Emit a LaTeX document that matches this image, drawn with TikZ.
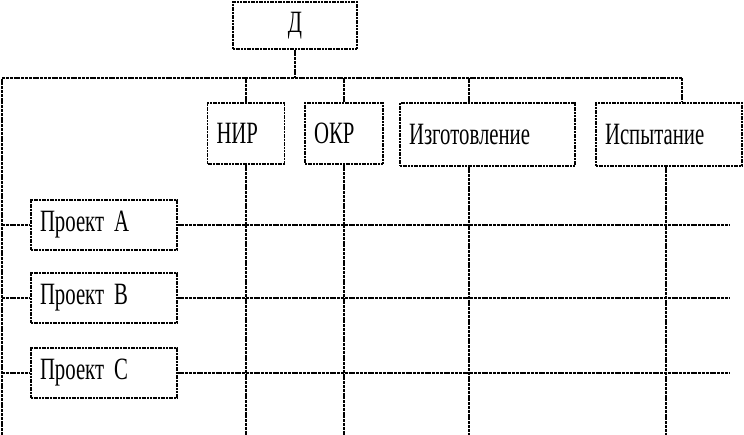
\documentclass[tikz,border=0pt]{standalone}
\usepackage{fontspec}
\setmainfont{Liberation Serif}[FakeStretch=0.67]
\usetikzlibrary{positioning, calc}

\begin{document}
\begin{tikzpicture}[
  x=1pt, y=-1pt,
  box/.style = {draw=black, line width=1.1pt, dash pattern=on 2pt off 0.7pt, fill=white,
    inner xsep=9pt, align=left, font=\fontsize{31}{33}\selectfont},
  link/.style = {line width=2pt, dash pattern=on 3pt off 0.8pt}
]
\useasboundingbox (0,0) rectangle (744,435);

% Top block
\node[box, align=center, text width=106pt, minimum height=47pt] (dir) at (295,25.5) {Д};

% Stage blocks
\node[box, text width=59pt, minimum height=61pt] (nir) at (246,133.5) {НИР};
\node[box, text width=60pt, minimum height=61pt] (okr) at (344,133.5) {ОКР};
\node[box, text width=157pt, minimum height=63pt] (izg) at (487.5,134.5) {Изготовление};
\node[box, text width=128pt, minimum height=63pt] (isp) at (669,134.5) {Испытание};

% Bus ends
\coordinate (busL) at (2,78);
\coordinate (busR) at (682,78);
\coordinate (botL) at (2,435);
\coordinate (endR) at (730,0);
\coordinate (izgT) at ($(izg.north west)+(70,0)$);
\coordinate (izgB) at ($(izg.south west)+(70,0)$);
\coordinate (ispB) at ($(isp.south)+(-3,0)$);

% Top bus
\draw[link] (dir.south) -- (dir.south |- busL);
\draw[link] (botL) -- (busL) -- (busR) -- (busR |- isp.north);
\draw[link] (nir.north) -- (nir.north |- busL);
\draw[link] (okr.north) -- (okr.north |- busL);
\draw[link] (izgT) -- (izgT |- busL);

% Columns down
\draw[link] (nir.south) -- (nir.south |- botL);
\draw[link] (okr.south) -- (okr.south |- botL);
\draw[link] (izgB) -- (izgB |- botL);
\draw[link] (ispB) -- (ispB |- botL);

% Project rows
\foreach \n/\y in {A/225, B/298, C/373} {
  \node[box, text width=128pt, minimum height=50pt] (p\n) at (104,\y) {Проект\hspace{10pt}\n};
  \draw[link] (busL |- p\n.west) -- (p\n.west);
  \draw[link] (p\n.east) -- (p\n.east -| endR);
}

\end{tikzpicture}
\end{document}
